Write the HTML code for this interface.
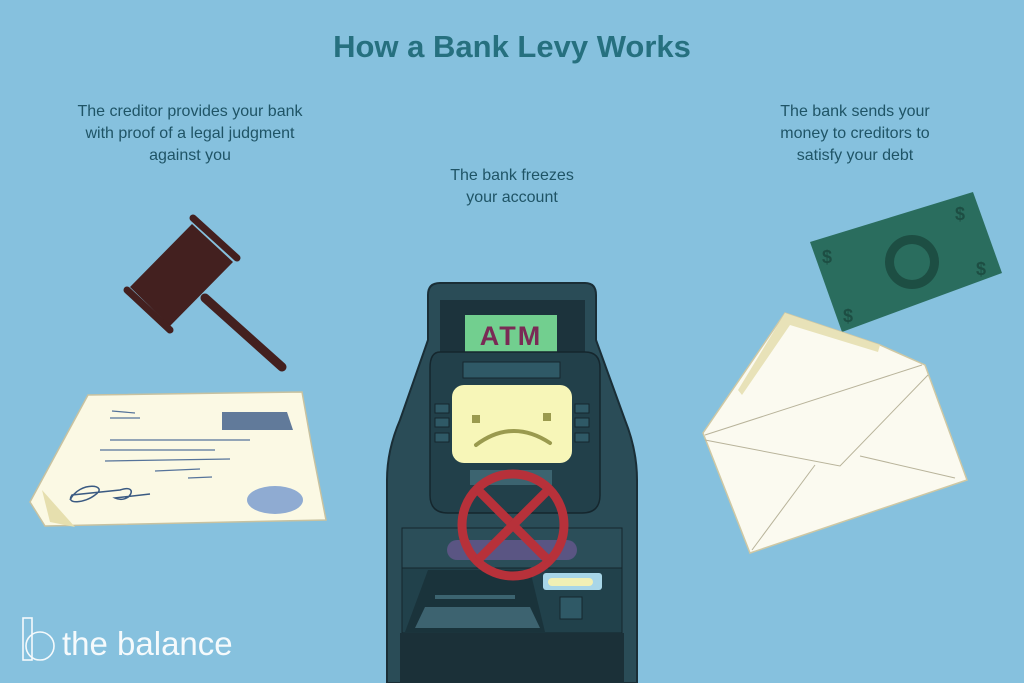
<!DOCTYPE html>
<html><head><meta charset="utf-8"><style>
html,body{margin:0;padding:0;}
body{width:1024px;height:683px;overflow:hidden;background:#86c1de;}
svg{display:block}
text{font-family:"Liberation Sans",sans-serif;}
</style></head><body>
<svg width="1024" height="683" viewBox="0 0 1024 683" xmlns="http://www.w3.org/2000/svg">
<rect width="1024" height="683" fill="#86c1de"/>
<text x="512" y="57" text-anchor="middle" font-size="31" font-weight="bold" fill="#26707f">How a Bank Levy Works</text>
<g font-size="16" fill="#1f5466" text-anchor="middle">
<text x="190" y="116">The creditor provides your bank</text>
<text x="190" y="138">with proof of a legal judgment</text>
<text x="190" y="160">against you</text>
<text x="512" y="180">The bank freezes</text>
<text x="512" y="202">your account</text>
<text x="855" y="116">The bank sends your</text>
<text x="855" y="138">money to creditors to</text>
<text x="855" y="160">satisfy your debt</text>
</g>
<!-- gavel -->
<g fill="#43201f">
<line x1="205" y1="298" x2="282" y2="367" stroke="#43201f" stroke-width="9" stroke-linecap="round"/>
<polygon points="192,224 233,262 170,326 130,287"/>
<line x1="193" y1="218" x2="237" y2="258" stroke="#43201f" stroke-width="7" stroke-linecap="round"/>
<line x1="127" y1="290" x2="170" y2="330" stroke="#43201f" stroke-width="7" stroke-linecap="round"/>
</g>
<!-- paper -->
<polygon points="88,395 302,392 312,448 326,520 45,526 30,502" fill="#fbf9e4" stroke="#c8c2a0" stroke-width="1.5"/>
<polygon points="42,490 50,522 75,527" fill="#e6dfae"/>
<polygon points="222,412 287,412 293,430 222,430" fill="#617a9a"/>
<ellipse cx="275" cy="500" rx="28" ry="14" fill="#8fabd2"/>
<g stroke="#55739a" stroke-width="1.2">
<line x1="112" y1="411" x2="135" y2="413"/><line x1="110" y1="418" x2="140" y2="418"/>
<line x1="110" y1="440" x2="250" y2="440"/><line x1="100" y1="450" x2="215" y2="450"/>
<line x1="105" y1="461" x2="230" y2="459"/><line x1="155" y1="471" x2="200" y2="469"/>
<line x1="188" y1="478" x2="212" y2="477"/>
</g>
<path d="M70,500 C80,480 110,485 95,495 C85,503 65,505 72,495 L120,490 C140,483 130,505 115,498 L150,494" fill="none" stroke="#3a5a82" stroke-width="1.5"/>
<!-- ATM -->
<path d="M440,283 L585,283 Q596,283 596,295 L596,340 L625,420 Q637,450 637,480 L637,683 L387,683 L387,480 Q387,450 400,420 L428,340 L428,295 Q428,283 440,283 Z" fill="#2a4c57" stroke="#1a2e36" stroke-width="2"/>
<rect x="440" y="300" width="145" height="60" fill="#1c333c"/>
<rect x="465" y="315" width="92" height="40" fill="#72cf8f"/>
<text x="511" y="345" text-anchor="middle" font-size="27" font-weight="bold" fill="#7a2a55" letter-spacing="2">ATM</text>
<path d="M440,352 L585,352 Q600,352 600,368 L600,495 Q600,513 582,513 L448,513 Q430,513 430,495 L430,368 Q430,352 440,352 Z" fill="#22404a" stroke="#15262d" stroke-width="1.5"/>
<rect x="463" y="362" width="97" height="16" fill="#2f5966" stroke="#15262d"/>
<rect x="452" y="385" width="120" height="78" rx="12" fill="#f7f6b8"/>
<rect x="472" y="415" width="8" height="8" fill="#9a9a4e"/>
<rect x="543" y="413" width="8" height="8" fill="#9a9a4e"/>
<path d="M476,445 Q512,418 550,443" fill="none" stroke="#9a9a4e" stroke-width="4" stroke-linecap="round"/>
<g fill="#2f5966" stroke="#15262d">
<rect x="435" y="404" width="14" height="9"/><rect x="435" y="418" width="14" height="9"/><rect x="435" y="433" width="14" height="9"/>
<rect x="575" y="404" width="14" height="9"/><rect x="575" y="418" width="14" height="9"/><rect x="575" y="433" width="14" height="9"/>
</g>
<rect x="470" y="470" width="82" height="15" fill="#3c6470"/>
<rect x="402" y="528" width="220" height="40" fill="#2b4e59" stroke="#15262d"/>
<rect x="447" y="540" width="130" height="20" rx="10" fill="#5a5583"/>
<rect x="402" y="568" width="220" height="65" fill="#21414b" stroke="#15262d"/>
<polygon points="428,570 530,570 545,632 405,632" fill="#1a333b"/>
<polygon points="425,607 530,607 540,628 415,628" fill="#3d6370"/>
<rect x="435" y="595" width="80" height="4" fill="#3c6470"/>
<rect x="543" y="573" width="59" height="17" rx="3" fill="#a8d6e8"/><rect x="548" y="578" width="45" height="8" rx="4" fill="#f1f0b5"/>
<rect x="560" y="597" width="22" height="22" fill="#2f5966" stroke="#15262d"/>
<rect x="400" y="633" width="224" height="50" fill="#1b3038"/>
<circle cx="513" cy="525" r="51" fill="none" stroke="#b7313a" stroke-width="9"/>
<line x1="478" y1="490" x2="548" y2="560" stroke="#b7313a" stroke-width="9"/>
<line x1="548" y1="490" x2="478" y2="560" stroke="#b7313a" stroke-width="9"/>
<!-- bill -->
<polygon points="810,242 973,192 1002,273 842,332" fill="#2a6d5e"/>
<circle cx="912" cy="262" r="27" fill="#1d4e43"/><circle cx="912" cy="262" r="18" fill="#2a6d5e"/>
<g font-size="18" font-weight="bold" fill="#1d4e43"><text x="822" y="263">$</text><text x="955" y="220">$</text><text x="976" y="275">$</text><text x="843" y="322">$</text></g>
<!-- envelope -->
<polygon points="703,433 785,313 880,345 925,365 967,480 750,553" fill="#fbfaf0" stroke="#cfc8a4" stroke-width="1.5"/>
<polygon points="785,313 880,345 878,352 790,325 742,395 738,390" fill="#e8e2b8"/>
<polyline points="705,440 840,466 928,375" fill="none" stroke="#b8b39a" stroke-width="1"/>
<line x1="705" y1="435" x2="922" y2="365" stroke="#b8b39a"/>
<line x1="752" y1="550" x2="815" y2="465" stroke="#b8b39a"/>
<line x1="860" y1="456" x2="955" y2="478" stroke="#b8b39a"/>
<!-- logo -->
<g stroke="#f5fafc" stroke-width="1.6" fill="none">
<rect x="23" y="618" width="9" height="42"/><circle cx="40" cy="646" r="14"/>
</g>
<text x="62" y="655" font-size="33" fill="#f5fafc">the balance</text>
</svg>
</body></html>
